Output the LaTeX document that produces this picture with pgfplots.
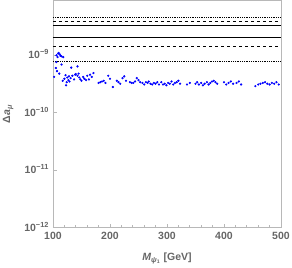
\documentclass[border=0pt]{standalone}
\usepackage{pgfplots}
\pgfplotsset{compat=1.18}
\usepackage{fontspec}
\setmainfont{Liberation Sans}
\definecolor{axgray}{gray}{0.72}
\definecolor{lblgray}{gray}{0.4}
\begin{document}
\begin{tikzpicture}
\begin{axis}[
  scale only axis, width=228pt, height=227pt,
  xmin=100, xmax=500, ymode=log, ymin=1e-12, ymax=9e-9,
  axis line style={axgray, line width=0.8pt},
  tick style={axgray, line width=0.6pt},
  tick align=inside,
  major tick length=4pt, minor tick length=2.5pt,
  xtick={100,200,300,400,500},
  minor x tick num=4,
  ytick={1e-12,1e-11,1e-10,1e-9},
  yticklabels={10\textsuperscript{−12},10\textsuperscript{−11},10\textsuperscript{−10},10\textsuperscript{−9}},
  yminorticks=false,
  xtick pos=bottom, ytick pos=left,
  /pgf/number format/assume math mode=true,
  tick label style={font=\fontsize{10.5}{12}\selectfont\bfseries, text=lblgray},
  xticklabel style={yshift=-1.5pt},
  yticklabel style={xshift=-0.5pt, yshift=1pt},
  xlabel={\textit{M}\textsubscript{\textit{ψ}\textsubscript{1}} [GeV]},
  ylabel={Δ\textit{a}\textsubscript{\textit{μ}}},
  label style={font=\fontsize{10.5}{12}\selectfont\bfseries, text=lblgray},
  xlabel style={at={(axis description cs:0.5,-0.137)}, anchor=center},
  ylabel style={at={(axis description cs:-0.197,0.5)}, anchor=center},
  clip=true,
]
\addplot[black, line width=0.8pt, densely dotted] coordinates {(100,4.57e-9) (500,4.57e-9)};
\addplot[black, line width=0.8pt, dashed] coordinates {(100,3.94e-9) (500,3.94e-9)};
\addplot[black, line width=0.8pt] coordinates {(100,3.31e-9) (500,3.31e-9)};
\addplot[black, line width=0.8pt] coordinates {(100,2.05e-9) (500,2.05e-9)};
\addplot[black, line width=0.8pt, dashed] coordinates {(100,1.42e-9) (500,1.42e-9)};
\addplot[black, line width=0.8pt, densely dotted] coordinates {(100,0.79e-9) (500,0.79e-9)};
\addplot[only marks, mark=*, mark size=0.9pt, color=blue] coordinates {
(106,1.00e-9) (109,1.07e-9) (112,1.04e-9) (115,0.96e-9) (108,0.93e-9) (118,0.93e-9) (110,1.10e-9) (113,0.98e-9)
(106,0.76e-9) (115,0.69e-9) (105,0.60e-9) (132,0.61e-9) (143,0.64e-9) (111,0.48e-9) (102,0.42e-9) (107,0.53e-9)
(122,0.45e-9) (125,0.41e-9) (128,0.43e-9) (131,0.40e-9) (134,0.44e-9) (120,0.39e-9) (117,0.36e-9) (124,0.34e-9)
(123,0.30e-9) (127,0.37e-9) (129,0.35e-9) (137,0.38e-9)
(140,0.47e-9) (143,0.44e-9) (146,0.41e-9) (148,0.38e-9) (150,0.36e-9) (153,0.42e-9) (145,0.48e-9) (139,0.46e-9)
(155,0.39e-9) (158,0.37e-9)
(165,0.46e-9) (168,0.42e-9) (171,0.49e-9) (160,0.44e-9) (163,0.38e-9)
(180,0.33e-9) (183,0.34e-9) (186,0.35e-9) (189,0.36e-9) (192,0.33e-9)
(197,0.44e-9) (200,0.39e-9) (205,0.28e-9)
(212,0.36e-9) (215,0.34e-9) (218,0.32e-9) (222,0.40e-9) (225,0.43e-9) (228,0.36e-9)
(235,0.34e-9) (238,0.33e-9) (241,0.33e-9) (244,0.35e-9) (247,0.40e-9) (250,0.37e-9) (253,0.34e-9)
(257,0.33e-9) (260,0.31e-9) (263,0.34e-9) (266,0.33e-9) (268,0.35e-9) (271,0.32e-9) (274,0.31e-9) (277,0.33e-9)
(280,0.32e-9) (283,0.34e-9) (286,0.31e-9)
(290,0.34e-9) (293,0.31e-9) (296,0.32e-9) (299,0.30e-9) (302,0.33e-9) (305,0.32e-9) (308,0.35e-9) (311,0.31e-9)
(314,0.33e-9) (317,0.34e-9) (320,0.36e-9) (323,0.32e-9)
(335,0.31e-9) (340,0.33e-9)
(350,0.32e-9) (353,0.34e-9) (356,0.31e-9) (360,0.33e-9) (363,0.30e-9) (366,0.32e-9) (370,0.34e-9) (373,0.31e-9)
(376,0.33e-9) (379,0.35e-9) (382,0.36e-9) (385,0.34e-9) (388,0.32e-9)
(400,0.34e-9) (404,0.31e-9) (408,0.33e-9) (412,0.35e-9) (416,0.32e-9)
(422,0.33e-9) (426,0.35e-9) (430,0.31e-9)
(455,0.29e-9) (460,0.31e-9) (464,0.32e-9) (468,0.33e-9) (472,0.34e-9) (476,0.32e-9) (480,0.31e-9) (484,0.33e-9)
(488,0.32e-9) (492,0.34e-9) (496,0.31e-9)
};
\end{axis}
\pgfresetboundingbox
\path[use as bounding box] ([xshift=-53pt,yshift=-40pt]current axis.south west) rectangle ([xshift=11pt,yshift=0.5pt]current axis.north east);
\end{tikzpicture}
\end{document}
